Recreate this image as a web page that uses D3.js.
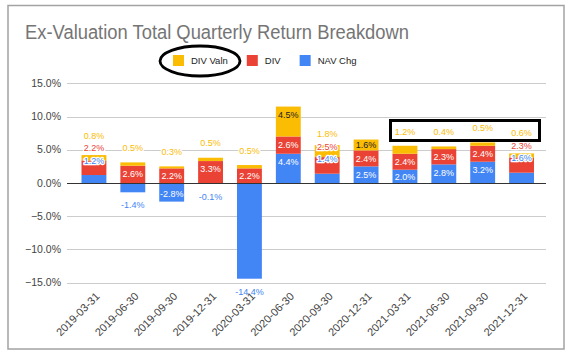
<!DOCTYPE html>
<html>
<head>
<meta charset="utf-8">
<script src="https://cdn.jsdelivr.net/npm/d3@7"></script>
<style>
  html, body { margin: 0; padding: 0; background: #ffffff; }
  svg { display: block; font-family: Arial, "Liberation Sans", sans-serif; }
</style>
</head>
<body>
<script>
// ---- data ----
const categories = ["2019-03-31","2019-06-30","2019-09-30","2019-12-31","2020-03-31","2020-06-30",
                    "2020-09-30","2020-12-31","2021-03-31","2021-06-30","2021-09-30","2021-12-31"];
const navChg  = [1.2, -1.4, -2.8, -0.1, -14.4, 4.4, 1.4, 2.5, 2.0, 2.8, 3.2, 1.55];
const divRet  = [2.2, 2.6, 2.2, 3.3, 2.2, 2.6, 2.5, 2.4, 2.4, 2.3, 2.4, 2.3];
const divValn = [0.8, 0.5, 0.3, 0.5, 0.5, 4.5, 1.8, 1.64, 1.2, 0.4, 0.5, 0.6];
const yTicks  = [15, 10, 5, 0, -5, -10, -15];
const seriesKeys   = ["nav", "div", "valn"];
const seriesNames  = {valn: "DIV Valn", div: "DIV", nav: "NAV Chg"};
const legendOrder  = ["valn", "div", "nav"];
const seriesColors = {nav: "#4285f4", div: "#ea4335", valn: "#fbbc04"};
const insideText   = {nav: "#ffffff", div: "#ffffff", valn: "#222222"};
const title = "Ex-Valuation Total Quarterly Return Breakdown";

const W = 567, H = 356;
const svg = d3.select("body").append("svg").attr("width", W).attr("height", H);

// outer border
svg.append("rect").attr("x", 8).attr("y", 5.5).attr("width", 556).attr("height", 343.5)
  .attr("fill", "#fff").attr("stroke", "#a3a3a3").attr("stroke-width", 1.5);

// title
svg.append("text").attr("x", 25).attr("y", 39).text(title)
  .attr("font-size", 20).attr("fill", "#757575")
  .attr("textLength", 384).attr("lengthAdjust", "spacingAndGlyphs");

// scales
const x = d3.scaleBand().domain(categories).range([74.5, 541]).paddingInner(0.36).paddingOuter(0.18);
const y = d3.scaleLinear().domain([-15, 15]).range([282.7, 83.3]);
const bw = x.bandwidth();

// grid + y tick labels
const grid = svg.append("g");
yTicks.forEach(t => {
  const yy = Math.round(y(t)) + 0.5;
  grid.append("line").attr("x1", 67).attr("x2", 546).attr("y1", yy).attr("y2", yy)
    .attr("stroke", t === 0 ? "#333" : "#cccccc").attr("stroke-width", 1);
  grid.append("text").attr("x", 61).attr("y", y(t)).attr("dy", "0.35em")
    .attr("text-anchor", "end").attr("font-size", 10.5).attr("fill", "#444")
    .text(d3.format(".1f")(t) + "%");
});

// stacked data
const rows = categories.map((c, i) => ({cat: c, nav: navChg[i], div: divRet[i], valn: divValn[i]}));
const stacked = d3.stack().keys(seriesKeys).offset(d3.stackOffsetDiverging)(rows);

const barsG = svg.append("g");
stacked.forEach(s => {
  barsG.selectAll(null).data(s).enter().append("rect")
    .attr("x", d => x(d.data.cat))
    .attr("width", bw)
    .attr("y", d => y(Math.max(d[0], d[1])))
    .attr("height", d => Math.abs(y(d[0]) - y(d[1])))
    .attr("fill", seriesColors[s.key]);
});

// zero line on top of bars
svg.append("line").attr("x1", 67).attr("x2", 546)
  .attr("y1", Math.round(y(0)) + 0.5).attr("y2", Math.round(y(0)) + 0.5)
  .attr("stroke", "#333").attr("stroke-width", 1);

// data labels
const fmt = v => v.toFixed(1) + "%";
const labelG = svg.append("g").attr("font-size", 9);
const measure = labelG.append("text").attr("visibility", "hidden");
const textW = s => { measure.text(s); return measure.node().getComputedTextLength(); };

categories.forEach((cat, i) => {
  const cx = x(cat) + bw / 2;
  const placed = [];
  seriesKeys.forEach((key, k) => {
    const d = stacked[k][i];
    const v = rows[i][key];
    const pos = v >= 0;
    const yEnd = pos ? y(d[1]) : y(d[0]);
    const yA = y(d[0]), yB = y(d[1]);
    const h = Math.abs(yA - yB);
    const center = (yA + yB) / 2;
    const label = fmt(v);
    const w = textW(label);
    const fitsSize = h >= 10.5 && w <= bw + 1;
    const collide = c => placed.some(p => Math.abs(p - c) < 12);
    let cy, inside = false;
    const cand = pos ? Math.min(yEnd + 8, center) : Math.max(yEnd - 8, center);
    if (fitsSize && !collide(cand)) {
      cy = cand; inside = true;
    } else if (pos) {
      if (fitsSize) {
        cy = Math.min(...placed) - 12.5;
      } else {
        cy = yEnd - 14.4;
        if (collide(cy)) cy = Math.min(...placed) - 12.5;
      }
    } else {
      cy = yEnd + 13;
    }
    placed.push(cy);
    const t = labelG.append("text").attr("x", cx).attr("y", cy).attr("dy", "0.35em")
      .attr("text-anchor", "middle").text(label);
    if (inside) {
      t.attr("fill", insideText[key]);
    } else {
      t.attr("fill", seriesColors[key]).attr("stroke", "#fff").attr("stroke-width", 2.5)
        .attr("stroke-linejoin", "round").attr("paint-order", "stroke");
    }
  });
});
measure.remove();

// x axis labels
categories.forEach(cat => {
  const cx = x(cat) + bw / 2;
  svg.append("text")
    .attr("transform", `translate(${cx + 6.5},${297}) rotate(-45)`)
    .attr("text-anchor", "end").attr("font-size", 11).attr("fill", "#444")
    .text(cat);
});

// legend
const legendG = svg.append("g").attr("font-size", 9.5).attr("fill", "#222");
let lx = 173;
legendOrder.forEach(key => {
  legendG.append("rect").attr("x", lx).attr("y", 55).attr("width", 11).attr("height", 11)
    .attr("fill", seriesColors[key]);
  const t = legendG.append("text").attr("x", lx + 18).attr("y", 60.5).attr("dy", "0.35em")
    .text(seriesNames[key]);
  lx += 18 + t.node().getComputedTextLength() + 19;
});

// annotations (hand-drawn highlights)
svg.append("ellipse").attr("cx", 200).attr("cy", 61).attr("rx", 40).attr("ry", 15)
  .attr("fill", "none").attr("stroke", "#000").attr("stroke-width", 2.8);
svg.append("rect").attr("x", 390.5).attr("y", 120.5).attr("width", 149).attr("height", 20)
  .attr("fill", "none").attr("stroke", "#000").attr("stroke-width", 3);
</script>
</body>
</html>
